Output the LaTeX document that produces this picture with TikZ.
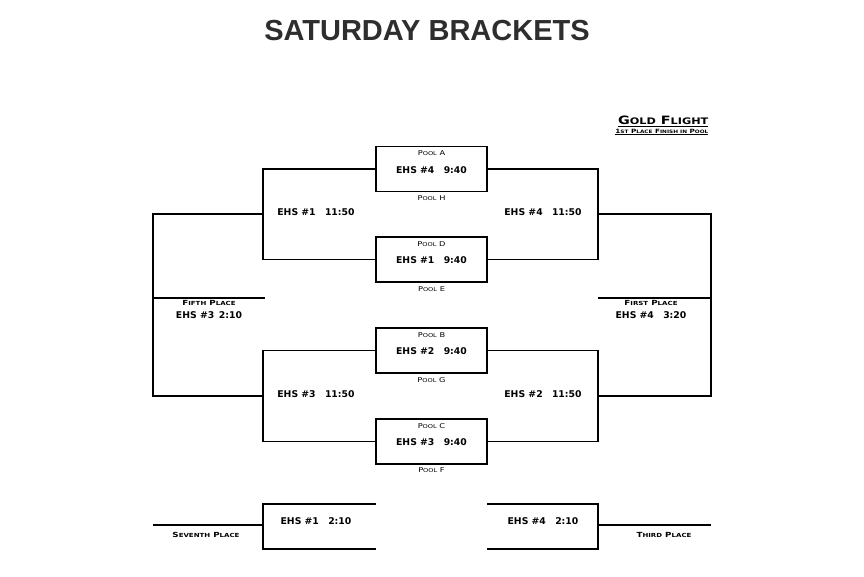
\documentclass[tikz,border=0pt]{standalone}
\usepackage{fontspec}
\setmainfont{Liberation Sans}
\newfontfamily\dvs{DejaVu Sans}
\newfontfamily\cop[FakeStretch=1.25]{DejaVu Sans}
\begin{document}
\begin{tikzpicture}[x=1pt,y=-1pt,line width=1.25pt,
  box/.style={draw,minimum width=111pt,minimum height=45pt,inner sep=0pt},
  ehs/.style={font=\dvs\bfseries\fontsize{9.3}{10}\selectfont,inner sep=0pt},
  pool/.style={font=\cop\fontsize{6.6}{7}\selectfont,inner sep=0pt},
  place/.style={font=\cop\bfseries\fontsize{7}{8}\selectfont,inner sep=0pt}]
\useasboundingbox (0,0) rectangle (864,577);
% title
\node[font=\bfseries\fontsize{29}{32}\selectfont,text=black!82,inner sep=0pt] (title) at (427,31) {SATURDAY BRACKETS};
% gold flight
\node[font=\cop\bfseries\fontsize{11.5}{12}\selectfont,inner sep=0pt,anchor=east] (gold) at (709,121) {\underline{G{\fontsize{9}{9}\selectfont OLD} F{\fontsize{9}{9}\selectfont LIGHT}}};
\node[font=\cop\bfseries\fontsize{5.8}{6}\selectfont,inner sep=0pt,anchor=east] (sub) at (709,132) {\underline{1{\fontsize{4.6}{5}\selectfont ST} P{\fontsize{4.6}{5}\selectfont LACE} F{\fontsize{4.6}{5}\selectfont INISH IN} P{\fontsize{4.6}{5}\selectfont OOL}}};
% boxes
\node[box] (b1) at (431.5,169) {};
\node[box] (b2) at (431.5,259.5) {};
\node[box] (b3) at (431.5,350.5) {};
\node[box] (b4) at (431.5,441.5) {};
\node[ehs] (t1) at (431.5,170) {EHS \#4\quad 9:40};
\node[ehs] (t2) at (431.5,260) {EHS \#1\quad 9:40};
\node[ehs] (t3) at (431.5,351) {EHS \#2\quad 9:40};
\node[ehs] (t4) at (431.5,442) {EHS \#3\quad 9:40};
\node[pool] (pA) at (431.5,153) {P{\fontsize{5.3}{6}\selectfont OOL} A};
\node[pool] (pH) at (431.5,198) {P{\fontsize{5.3}{6}\selectfont OOL} H};
\node[pool] (pD) at (431.5,244) {P{\fontsize{5.3}{6}\selectfont OOL} D};
\node[pool] (pE) at (431.5,289) {P{\fontsize{5.3}{6}\selectfont OOL} E};
\node[pool] (pB) at (431.5,335) {P{\fontsize{5.3}{6}\selectfont OOL} B};
\node[pool] (pG) at (431.5,380) {P{\fontsize{5.3}{6}\selectfont OOL} G};
\node[pool] (pC) at (431.5,426) {P{\fontsize{5.3}{6}\selectfont OOL} C};
\node[pool] (pF) at (431.5,470) {P{\fontsize{5.3}{6}\selectfont OOL} F};
% quarterfinal coordinates
\coordinate (lq1) at (263,214);
\coordinate (lq2) at (263,396);
\coordinate (rq1) at (598,214);
\coordinate (rq2) at (598,396);
\coordinate (ls1) at (153,214);
\coordinate (ls2) at (153,396);
\coordinate (rs1) at (711,214);
\coordinate (rs2) at (711,396);
\coordinate (fp1) at (153,298);
\coordinate (fp2) at (265,298);
\coordinate (fr1) at (598,298);
\coordinate (fr2) at (711,298);
\draw (b1.west) -| (lq1) |- (b2.west);
\draw (b3.west) -| (lq2) |- (b4.west);
\draw (b1.east) -| (rq1) |- (b2.east);
\draw (b3.east) -| (rq2) |- (b4.east);
\draw (lq1) -- (ls1) -- (ls2) -- (lq2);
\draw (rq1) -- (rs1) -- (rs2) -- (rq2);
\draw (fp1) -- (fp2);
\draw (fr1) -- (fr2);
\node[ehs] (s1) at (316,212) {EHS \#1\quad 11:50};
\node[ehs] (s2) at (316,394) {EHS \#3\quad 11:50};
\node[ehs] (s3) at (543,212) {EHS \#4\quad 11:50};
\node[ehs] (s4) at (543,394) {EHS \#2\quad 11:50};
\node[place] (fifth) at (209,303) {F{\fontsize{5.6}{6}\selectfont IFTH} P{\fontsize{5.6}{6}\selectfont LACE}};
\node[ehs] (fifthT) at (209,315) {EHS \#3\enspace 2:10};
\node[place] (first) at (651,303) {F{\fontsize{5.6}{6}\selectfont IRST} P{\fontsize{5.6}{6}\selectfont LACE}};
\node[ehs] (firstT) at (651,315) {EHS \#4\quad 3:20};
% bottom brackets
\coordinate (bl1) at (376,504);
\coordinate (bl2) at (263,504);
\coordinate (bl3) at (263,549);
\coordinate (bl4) at (376,549);
\coordinate (blm) at (263,525);
\coordinate (blx) at (153,525);
\draw (bl1) -- (bl2) -- (bl3) -- (bl4);
\draw (blm) -- (blx);
\coordinate (br1) at (487,504);
\coordinate (br2) at (598,504);
\coordinate (br3) at (598,549);
\coordinate (br4) at (487,549);
\coordinate (brm) at (598,525);
\coordinate (brx) at (711,525);
\draw (br1) -- (br2) -- (br3) -- (br4);
\draw (brm) -- (brx);
\node[ehs] (c1) at (316,521) {EHS \#1\quad 2:10};
\node[ehs] (c2) at (543,521) {EHS \#4\quad 2:10};
\node[place] (seventh) at (206,535) {S{\fontsize{5.6}{6}\selectfont EVENTH} P{\fontsize{5.6}{6}\selectfont LACE}};
\node[place] (third) at (664,535) {T{\fontsize{5.6}{6}\selectfont HIRD} P{\fontsize{5.6}{6}\selectfont LACE}};
\end{tikzpicture}
\end{document}
